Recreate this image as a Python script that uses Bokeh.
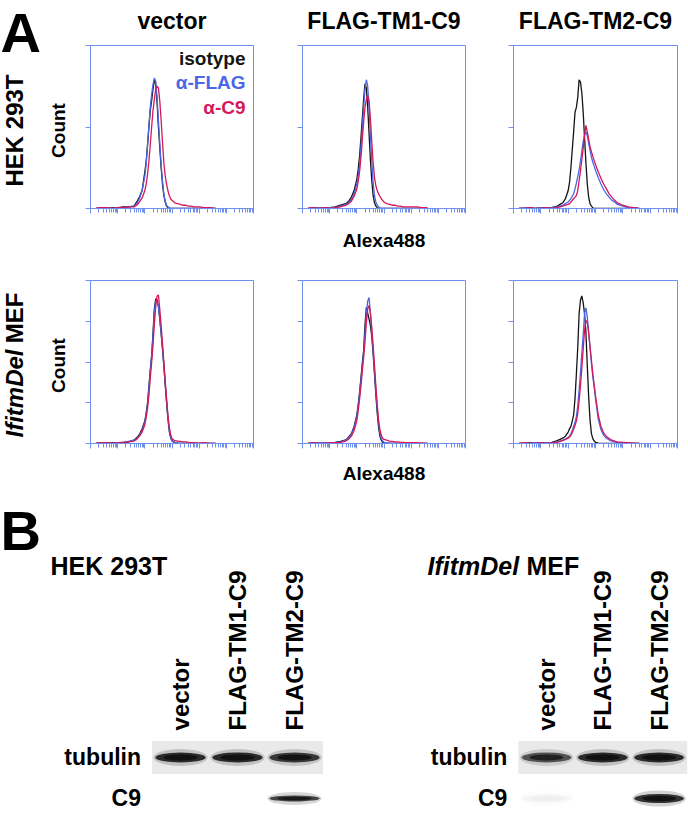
import math
from bokeh.plotting import figure
from bokeh.layouts import row, column
from bokeh.models import FixedTicker, Label, Range1d, CustomJSTickFormatter
from bokeh.core.properties import value
from bokeh.embed import file_html
from bokeh.resources import INLINE

FONT = "Liberation Sans"
AXIS_BLUE = "#7090ee"
C_ISO = "#141414"
C_FLAG = "#4a66e6"
C_C9 = "#d4185a"

samples = ["vector", "FLAG-TM1-C9", "FLAG-TM2-C9"]
stains = ["isotype", "\u03b1-FLAG", "\u03b1-C9"]
cells = ["HEK 293T", "IfitmDel MEF"]

# histogram bins: log10 of Alexa488 intensity
bin_log10 = [0.2, 0.4, 0.6, 0.8, 1.0, 1.2, 1.4,
             1.6, 1.7, 1.8, 1.9, 2.0,
             2.05, 2.1, 2.15, 2.2, 2.25, 2.3, 2.35, 2.4, 2.45, 2.5,
             2.55, 2.6, 2.65, 2.7, 2.75, 2.8, 2.85, 2.9, 2.95, 3.0,
             3.1, 3.2, 3.3, 3.4, 3.5, 3.6, 3.7, 3.8,
             4.0, 4.2, 4.4, 4.6]

# HEK 293T counts
hek_vector_isotype = [0, 1, 0, 1, 1, 2, 2, 3, 8, 14, 22, 45,
                      58, 78, 100, 120, 132, 146, 158, 152, 130, 100,
                      75, 50, 30, 16, 8, 3, 1, 0, 0, 0,
                      0, 0, 0, 0, 0, 0, 0, 0, 0, 0, 0, 0]
hek_vector_flag = [0, 0, 1, 0, 1, 1, 2, 3, 6, 12, 22, 40,
                   55, 78, 102, 124, 140, 152, 160, 156, 136, 108,
                   80, 54, 34, 18, 9, 4, 2, 1, 0, 0,
                   0, 0, 0, 0, 0, 0, 0, 0, 0, 0, 0, 0]
hek_vector_c9 = [0, 1, 1, 0, 1, 1, 2, 2, 4, 8, 13, 22,
                 30, 42, 58, 78, 100, 120, 134, 146, 150, 148,
                 132, 108, 82, 56, 40, 30, 22, 16, 12, 10,
                 7, 6, 5, 4, 4, 3, 3, 2, 2, 1, 1, 0]
hek_tm1_isotype = [0, 1, 0, 1, 1, 2, 4, 6, 9, 14, 22, 36,
                   48, 64, 86, 110, 134, 153, 148, 124, 92, 60,
                   34, 16, 7, 3, 1, 0, 0, 0, 0, 0,
                   0, 0, 0, 0, 0, 0, 0, 0, 0, 0, 0, 0]
hek_tm1_flag = [0, 0, 1, 0, 1, 1, 3, 5, 7, 11, 18, 30,
                40, 54, 74, 98, 124, 146, 158, 150, 124, 90,
                58, 32, 16, 8, 4, 2, 1, 0, 0, 0,
                0, 0, 0, 0, 0, 0, 0, 0, 0, 0, 0, 0]
hek_tm1_c9 = [0, 1, 0, 1, 0, 1, 2, 4, 6, 9, 15, 24,
              33, 45, 62, 84, 106, 124, 134, 139, 132, 110,
              82, 56, 38, 28, 22, 18, 15, 12, 10, 8,
              6, 5, 4, 4, 3, 3, 2, 2, 2, 2, 1, 1]
hek_tm2_isotype = [0, 0, 1, 0, 1, 1, 1, 3, 5, 7, 12, 22,
                   32, 50, 72, 94, 118, 124, 136, 158, 155, 142,
                   118, 86, 56, 30, 14, 6, 3, 1, 0, 0,
                   0, 0, 0, 0, 0, 0, 0, 0, 0, 0, 0, 0]
hek_tm2_flag = [0, 1, 0, 0, 1, 0, 1, 2, 3, 4, 6, 8,
                10, 12, 15, 18, 24, 31, 39, 47, 58, 70,
                82, 90, 94, 89, 80, 71, 63, 57, 52, 47,
                38, 30, 23, 18, 14, 10, 8, 5, 3, 1, 1, 0]
hek_tm2_c9 = [0, 0, 1, 0, 0, 1, 0, 1, 2, 3, 4, 5,
              6, 8, 10, 12, 14, 16, 22, 34, 46, 60,
              74, 90, 102, 94, 85, 76, 70, 64, 59, 54,
              45, 37, 30, 24, 18, 14, 10, 7, 4, 2, 1, 0]

# IfitmDel MEF counts
mef_vector_isotype = [0, 2, 0, 2, 2, 3, 4, 8, 14, 22, 36, 55,
                      75, 100, 140, 180, 215, 270, 330, 355, 352, 335,
                      305, 270, 232, 190, 145, 100, 60, 30, 14, 6,
                      2, 1, 0, 0, 0, 0, 0, 0, 0, 0, 0, 0]
mef_vector_flag = [0, 0, 2, 0, 2, 2, 5, 8, 12, 20, 32, 52,
                   72, 96, 134, 176, 212, 262, 322, 350, 348, 338,
                   308, 272, 234, 192, 148, 104, 64, 34, 16, 7,
                   3, 1, 0, 0, 0, 0, 0, 0, 0, 0, 0, 0]
mef_vector_c9 = [0, 2, 2, 0, 2, 2, 4, 6, 10, 18, 28, 46,
                 64, 86, 118, 160, 198, 240, 292, 336, 362, 364,
                 330, 290, 246, 200, 154, 110, 70, 40, 22, 12,
                 7, 6, 5, 4, 4, 3, 2, 2, 1, 2, 0, 0]
mef_tm1_isotype = [0, 2, 0, 2, 2, 3, 5, 9, 16, 24, 42, 70,
                   95, 125, 160, 196, 228, 290, 334, 320, 305, 290,
                   262, 220, 170, 120, 75, 40, 18, 8, 3, 1,
                   0, 0, 0, 0, 0, 0, 0, 0, 0, 0, 0, 0]
mef_tm1_flag = [0, 0, 2, 2, 0, 2, 4, 8, 14, 22, 38, 66,
                90, 120, 152, 190, 222, 270, 318, 350, 358, 320,
                272, 228, 180, 130, 86, 50, 26, 12, 6, 3,
                2, 1, 0, 0, 0, 0, 0, 0, 0, 0, 0, 0]
mef_tm1_c9 = [0, 2, 0, 0, 2, 2, 3, 6, 11, 18, 32, 56,
              80, 108, 140, 176, 210, 250, 296, 330, 339, 320,
              285, 240, 192, 142, 96, 58, 34, 20, 13, 10,
              8, 6, 5, 4, 4, 3, 3, 2, 2, 2, 1, 0]
mef_tm2_isotype = [0, 0, 2, 0, 2, 2, 3, 7, 10, 13, 18, 28,
                   36, 42, 55, 70, 110, 170, 235, 318, 352, 362,
                   345, 318, 272, 190, 115, 58, 25, 12, 6, 3,
                   1, 0, 0, 0, 0, 0, 0, 0, 0, 0, 0, 0]
mef_tm2_flag = [0, 0, 0, 2, 0, 2, 2, 4, 6, 8, 11, 15,
                18, 24, 32, 42, 52, 66, 92, 130, 175, 220,
                268, 320, 333, 310, 275, 235, 198, 165, 138, 110,
                60, 34, 20, 13, 9, 6, 4, 2, 2, 1, 0, 0]
mef_tm2_c9 = [0, 2, 0, 0, 2, 0, 2, 3, 5, 7, 10, 13,
              16, 20, 27, 35, 44, 55, 74, 104, 142, 185,
              232, 278, 302, 296, 270, 238, 205, 172, 145, 118,
              70, 42, 26, 17, 12, 8, 6, 4, 3, 2, 1, 0]

hek_series = [[hek_vector_isotype, hek_vector_flag, hek_vector_c9],
              [hek_tm1_isotype, hek_tm1_flag, hek_tm1_c9],
              [hek_tm2_isotype, hek_tm2_flag, hek_tm2_c9]]
mef_series = [[mef_vector_isotype, mef_vector_flag, mef_vector_c9],
              [mef_tm1_isotype, mef_tm1_flag, mef_tm1_c9],
              [mef_tm2_isotype, mef_tm2_flag, mef_tm2_c9]]

hek_count_ticks = [0, 100, 200]
mef_count_ticks = [0, 100, 200, 300, 400]
decade_ticks = [1, 10, 100, 1000, 10000, 100000, 1000000]

# western blot (relative band intensity per lane)
lanes = ["vector", "FLAG-TM1-C9", "FLAG-TM2-C9"]
blot_rows = ["tubulin", "C9"]
hek_tubulin = [1.0, 1.0, 0.92]
hek_c9 = [0.0, 0.0, 0.85]
mef_tubulin = [0.75, 1.0, 1.0]
mef_c9 = [0.03, 0.0, 0.95]

LINE_COLORS = [C_ISO, C_FLAG, C_C9]
minor_ticks = [m * d for d in decade_ticks[:-1] for m in range(2, 10)]


def hist_fig(series, ymax, yticks, width, bl, br, height, bt, bb,
             xlabel=None, xlabel_standoff=14, legend=False):
    p = figure(width=width, height=height, x_axis_type="log",
               x_range=Range1d(1, 1e6), y_range=Range1d(0, ymax),
               min_border_left=bl, min_border_right=br,
               min_border_top=bt, min_border_bottom=bb,
               toolbar_location=None, output_backend="svg", title=None)
    p.grid.grid_line_color = None
    p.outline_line_color = AXIS_BLUE
    p.background_fill_color = "white"
    p.border_fill_color = "white"
    xs = [10 ** v for v in bin_log10]
    for ys, col in zip(series, LINE_COLORS):
        p.line(xs, ys, line_color=col, line_width=1.3)
    xa = p.xaxis[0]
    xa.ticker = FixedTicker(ticks=decade_ticks, minor_ticks=minor_ticks)
    ya = p.yaxis[0]
    ya.ticker = FixedTicker(ticks=yticks, minor_ticks=[])
    for ax in (xa, ya):
        ax.formatter = CustomJSTickFormatter(code="return ''")
        ax.major_label_text_font_size = "0px"
        ax.major_label_standoff = 0
        ax.axis_line_color = AXIS_BLUE
        ax.major_tick_line_color = AXIS_BLUE
        ax.minor_tick_line_color = AXIS_BLUE
        ax.major_tick_in = 0
        ax.major_tick_out = 5
        ax.minor_tick_in = 0
        ax.minor_tick_out = 4
    if xlabel:
        xa.axis_label = xlabel
        xa.axis_label_text_font = FONT
        xa.axis_label_text_font_size = "19px"
        xa.axis_label_text_font_style = "bold"
        xa.axis_label_text_color = "black"
        xa.axis_label_standoff = xlabel_standoff
    if legend:
        ys_leg = [184, 155, 124]
        for name, yv, col in zip(stains, ys_leg, LINE_COLORS):
            p.add_layout(Label(x=1e6, y=yv, x_offset=-8, text=name,
                               text_align="right", text_baseline="middle",
                               text_color=col, text_font=FONT,
                               text_font_size="19px", text_font_style="bold"))
    return p


def blank_fig(width, height, xr, yr, bt=0, bb=0):
    p = figure(width=width, height=height, x_range=xr, y_range=yr,
               min_border=0, min_border_top=bt, min_border_bottom=bb,
               min_border_left=0, min_border_right=0,
               toolbar_location=None, output_backend="svg",
               x_axis_location=None, y_axis_location=None, title=None)
    p.outline_line_color = None
    p.grid.grid_line_color = None
    return p


def txt(p, x, y, s, size, style="bold", align="left", baseline="middle",
        angle=0.0, color="black", x_offset=0):
    p.text(x=[x], y=[y], text=[s], text_font=value(FONT), text_font_size=size,
           text_font_style=style, text_align=align, text_baseline=baseline,
           angle=angle, text_color=color, x_offset=x_offset)


# ---------- left strip: panel letter, cell-line names, y-axis labels ----------
# coordinates: x = pixels from the left, y = pixels up from the strip bottom
LEFT = blank_fig(70, 490, Range1d(0, 70), Range1d(0, 490))
txt(LEFT, 0, 490, "A", "56px", baseline="top")
txt(LEFT, 14, 360, cells[0], "24px", align="center", angle=math.pi / 2)
txt(LEFT, 57.5, 360, "Count", "19px", align="center", angle=math.pi / 2)
txt(LEFT, 14, 53, "IfitmDel", "24px", style="bold italic", align="left", angle=math.pi / 2)
txt(LEFT, 14, 198, "MEF", "24px", align="right", angle=math.pi / 2)
txt(LEFT, 57.5, 125, "Count", "19px", align="center", angle=math.pi / 2)

# ---------- header: sample names ----------
HDR = blank_fig(618, 45, Range1d(70, 688), Range1d(0, 45))
HDR.text(x=[171.5, 383.5, 595], y=[25, 25, 25], text=samples, text_font=value(FONT),
         text_font_size="23px", text_font_style="bold", text_align="center",
         text_baseline="middle", text_color="black")

# ---------- row 1 (HEK 293T) ----------
H11 = hist_fig(hek_series[0], 200, hek_count_ticks, 207, 20, 24, 217, 0, 54, legend=True)
H12 = hist_fig(hek_series[1], 200, hek_count_ticks, 212, 25, 24, 217, 0, 54,
               xlabel="Alexa488", xlabel_standoff=16)
H13 = hist_fig(hek_series[2], 200, hek_count_ticks, 199, 24, 11, 217, 0, 54)

# ---------- row 2 (IfitmDel MEF) ----------
H21 = hist_fig(mef_series[0], 400, mef_count_ticks, 207, 20, 24, 228, 18, 47)
H22 = hist_fig(mef_series[1], 400, mef_count_ticks, 212, 25, 24, 228, 18, 47,
               xlabel="Alexa488", xlabel_standoff=14)
H23 = hist_fig(mef_series[2], 400, mef_count_ticks, 199, 24, 11, 228, 18, 47)


# ---------- B: western blots ----------
def blot_fig(xr, tub, c9, tub_h, c9_h):
    p = blank_fig(344, 323, xr, Range1d(-0.366, 7.512))
    idx = [0, 1, 2]
    # tubulin strip background
    p.quad(left=[-0.5], right=[2.5], bottom=[0.6], top=[1.4],
           fill_color="#e9e9e9", line_color=None)
    for yrow, inten, h in ((1, tub, tub_h), (0, c9, c9_h)):
        p.ellipse(x=idx, y=[yrow] * 3, width=0.95, height=h + 7, height_units="screen",
                  fill_color="#777777", fill_alpha=[0.35 * v for v in inten], line_color=None)
        p.ellipse(x=idx, y=[yrow] * 3, width=0.88, height=h, height_units="screen",
                  fill_color="#2a2a2a", fill_alpha=inten, line_color=None)
        p.ellipse(x=idx, y=[yrow] * 3, width=0.6, height=h * 0.6, height_units="screen",
                  fill_color="#111111", fill_alpha=inten, line_color=None)
    # lane labels
    p.text(x=idx, y=[1.66] * 3, text=lanes, text_font=value(FONT), text_font_size="24px",
           text_font_style="bold", text_align="left", text_baseline="middle",
           angle=math.pi / 2)
    # row labels
    p.text(x=[-0.5, -0.5], y=[1, 0], text=blot_rows, text_font=value(FONT),
           text_font_size="23px", text_font_style="bold", text_align="right",
           text_baseline="middle", x_offset=-11)
    return p


B1 = blot_fig(Range1d(-3.158, 2.877), hek_tubulin, hek_c9, 10, 6)
txt(B1, -3.158, 6.54, "B", "56px")
txt(B1, -2.28, 5.66, cells[0], "25px")

B2 = blot_fig(Range1d(-3.588, 2.522), mef_tubulin, mef_c9, 10, 9)
txt(B2, -2.114, 5.66, "IfitmDel", "25px", style="bold italic")
txt(B2, -2.114, 5.66, "MEF", "25px", x_offset=99)

right_part = column(HDR, row(H11, H12, H13), row(H21, H22, H23))
layout = column(row(LEFT, right_part), row(B1, B2))

open("out.html", "w").write(file_html(layout, INLINE))
